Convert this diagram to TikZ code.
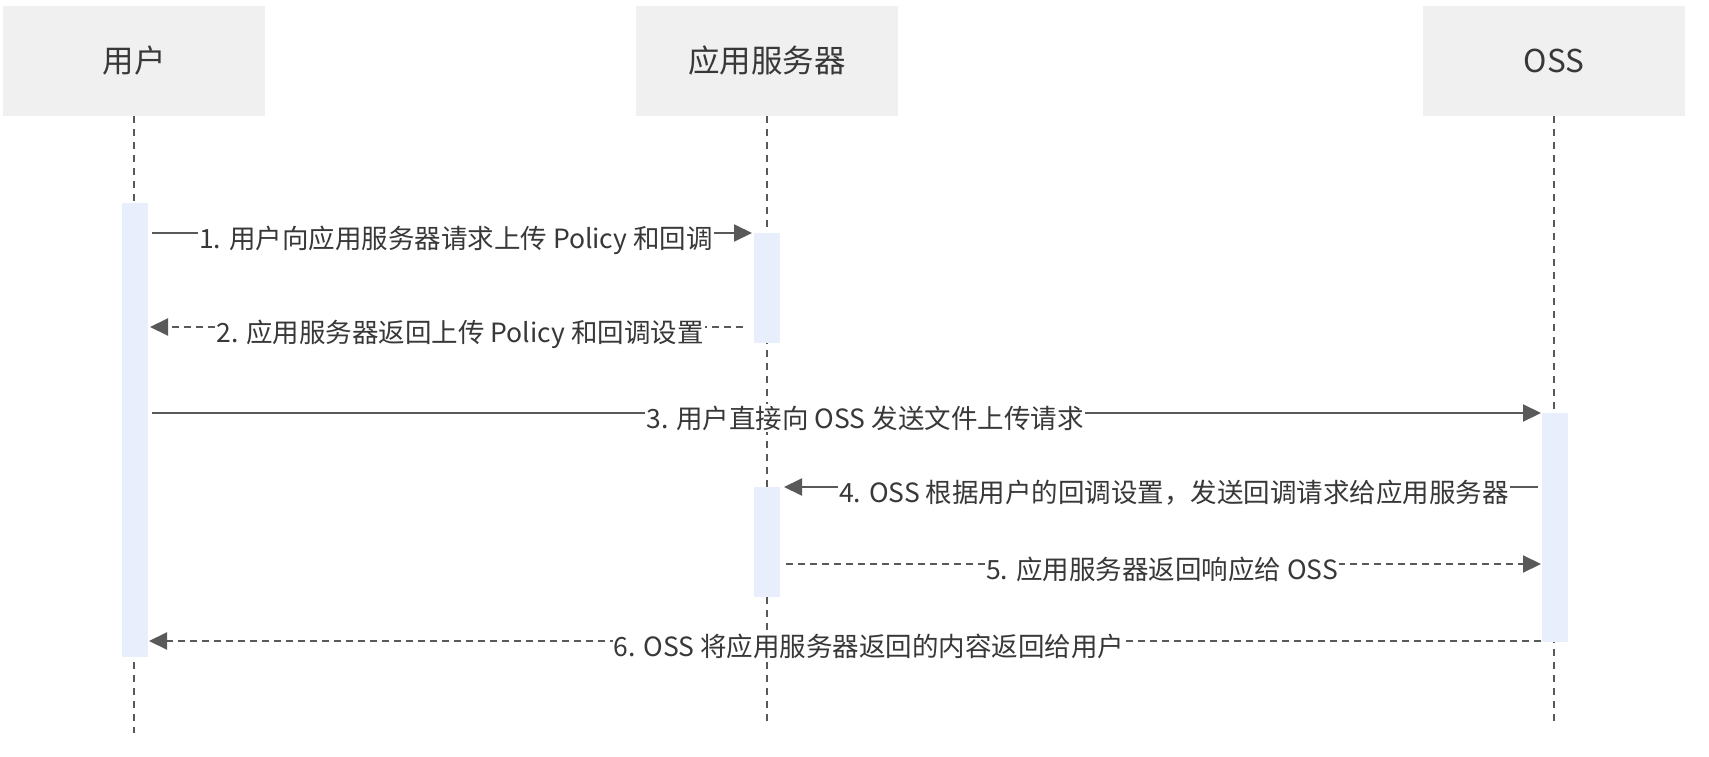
\documentclass[tikz,border=0pt]{standalone}
\usepackage{fontspec}
\setmainfont{Noto Sans CJK SC}
\usetikzlibrary{arrows.meta}
\definecolor{hdr}{HTML}{F0F0F0}
\definecolor{barc}{HTML}{E8EEFC}
\definecolor{ln}{HTML}{595959}
\definecolor{txt}{HTML}{383838}
\begin{document}
\begin{tikzpicture}[x=1pt,y=-1pt,
  head/.style={fill=hdr, draw=none, minimum width=262pt, minimum height=110pt, inner sep=0pt, font=\fontsize{31.5}{38}\selectfont, text=txt},
  actbar/.style={fill=barc, draw=none, minimum width=26pt, inner sep=0pt},
  life/.style={draw=ln, line width=1.8pt, dash pattern=on 7pt off 6pt},
  msg/.style={draw=ln, line width=2pt, -{Triangle[length=18pt,width=17pt]}},
  ret/.style={msg, dash pattern=on 7pt off 5pt},
  lbl/.style={fill=white, inner xsep=1pt, inner ysep=2pt, font=\fontsize{26.5}{31}\selectfont, text=txt, anchor=base}
]
\useasboundingbox[fill=white] (0,0) rectangle (1709,757);

% headers
\node[head] (user) at (134,61) {用户};
\node[head] (app) at (767,61) {应用服务器};
\node[head] (oss) at (1554,61) {OSS};

% lifeline ends
\coordinate (userEnd) at (134,733);
\coordinate (appEnd) at (767,721);
\coordinate (ossEnd) at (1554,725);
\draw[life] (user.south) -- (userEnd);
\draw[life] (app.south) -- (appEnd);
\draw[life] (oss.south) -- (ossEnd);

% activation bars
\node[actbar, minimum height=454pt] (ubar) at (134.5,430) {};
\node[actbar, minimum height=110pt] (abar1) at (767,288) {};
\node[actbar, minimum height=110pt] (abar2) at (767,542) {};
\node[actbar, minimum height=229pt] (obar) at (1554.5,527.5) {};

% message end points
\coordinate (m1a) at (152,233);  \coordinate (m1b) at (752,233);
\coordinate (m2a) at (743,327);  \coordinate (m2b) at (150,327);
\coordinate (m3a) at (152,413);  \coordinate (m3b) at (1541,413);
\coordinate (m4a) at (1538,487); \coordinate (m4b) at (784,487);
\coordinate (m5a) at (786,564);  \coordinate (m5b) at (1541,564);
\coordinate (m6a) at (1541,641); \coordinate (m6b) at (149,641);

\draw[msg] (m1a) -- (m1b);
\draw[ret] (m2a) -- (m2b);
\draw[msg] (m3a) -- (m3b);
\draw[msg] (m4a) -- (m4b);
\draw[ret] (m5a) -- (m5b);
\draw[ret] (m6a) -- (m6b);

\node[lbl] (l1) at (456,248) {1. 用户向应用服务器请求上传 Policy 和回调};
\node[lbl] (l2) at (460,342) {2. 应用服务器返回上传 Policy 和回调设置};
\node[lbl] (l3) at (865,428) {3. 用户直接向 OSS 发送文件上传请求};
\node[lbl] (l4) at (1174,502) {4. OSS 根据用户的回调设置，发送回调请求给应用服务器};
\node[lbl] (l5) at (1162,579) {5. 应用服务器返回响应给 OSS};
\node[lbl] (l6) at (869,656) {6. OSS 将应用服务器返回的内容返回给用户};
\end{tikzpicture}
\end{document}
